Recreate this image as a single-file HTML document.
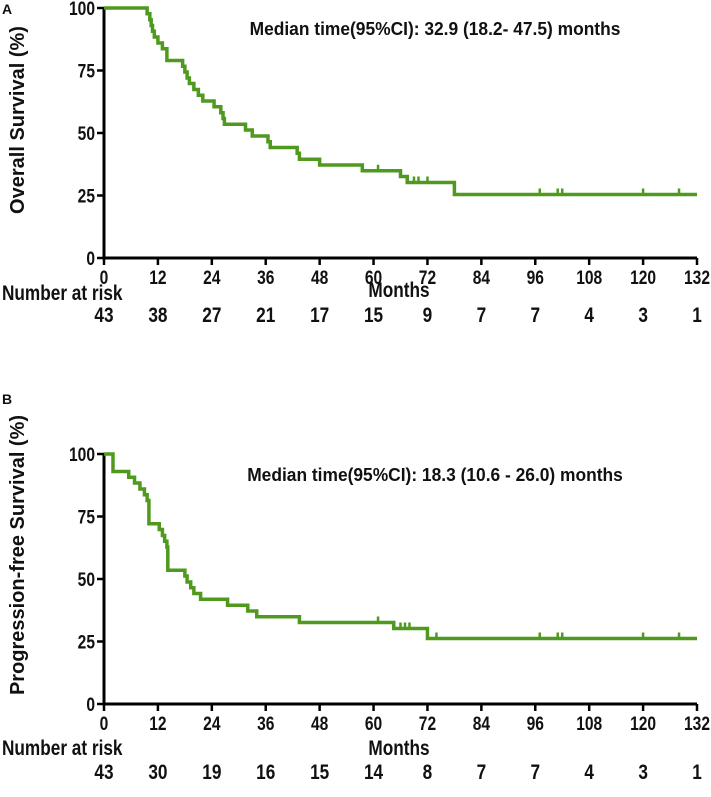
<!DOCTYPE html>
<html><head><meta charset="utf-8">
<style>
html,body{margin:0;padding:0;background:#fff;}
svg{display:block;}
text{font-family:"Liberation Sans",sans-serif;font-weight:bold;fill:#111;}
</style></head>
<body>
<svg id="chart" width="711" height="797" viewBox="0 0 711 797" xmlns="http://www.w3.org/2000/svg"></svg>
<script>
const xTicks = [0,12,24,36,48,60,72,84,96,108,120,132];
const yTicks = [0,25,50,75,100];
const osTimes = [0,9.6,10.2,10.5,10.8,11.2,12,13,14,17.5,18,18.5,19,20,21,22,24.5,26,26.5,26.8,31.5,33,36.5,37,43,43.5,48,57.5,66,67.5,78];
const osSurv  = [100,97.7,95.3,93,90.7,88.4,86,83.7,79,76.7,74.4,72,69.8,67.4,65.1,62.8,60.5,58.1,55.8,53.5,51.2,48.8,46.5,44.2,41.9,39.5,37.2,34.9,32.6,30.2,25.4];
const osCens  = [61,69,70,72,97,101,102,120,128];
const pfsTimes = [0,2,5.5,6.8,8,9,9.6,10,12.3,13,13.5,14,14.2,18,18.5,19.3,20,21.5,22,27.5,32,34,43.5,64.5,72];
const pfsSurv  = [100,93,90.7,88.4,86,83.7,81.4,72.1,69.8,67.4,65.1,62.8,53.5,51.2,48.8,46.5,44.2,41.9,41.9,39.5,37.2,34.9,32.6,30.2,26.2];
const pfsCens  = [61,66,67,68,74,97,101,102,120,128];
const osRisk  = [43,38,27,21,17,15,9,7,7,4,3,1];
const pfsRisk = [43,30,19,16,15,14,8,7,7,4,3,1];

const svg = document.getElementById('chart');
const NS = 'http://www.w3.org/2000/svg';
function el(tag, attrs, parent){const e=document.createElementNS(NS,tag);for(const k in attrs)e.setAttribute(k,attrs[k]);(parent||svg).appendChild(e);return e;}
function txt(s, attrs, parent){const e=el('text',attrs,parent);e.textContent=s;return e;}
function ntxt(s, x, y, size, anchor, parent){
  return txt(s,{x:0,y:0,'font-size':size,'text-anchor':anchor,transform:`translate(${x} ${y}) scale(0.82 1)`},parent);
}

function panel(p){
  const g = el('g',{});
  
  
  const x0=104,x1=697;
  const xs = v => x0 + (v/132)*(x1-x0);
  const ys = v => p.yb - (v/100)*(p.yb-p.yt);
  const lbl = txt(p.letter,{x:2,y:p.letterY,'font-size':14});
  
  
  const ax = el('path',{d:`M${x0} ${p.yt} V${p.yb} H${x1}`,stroke:'#000','stroke-width':3,fill:'none'},g);
  
  
  yTicks.forEach(t=>{
    el('line',{x1:x0-7,x2:x0,y1:ys(t),y2:ys(t),stroke:'#000','stroke-width':2.5},g);
    const tl = ntxt(String(t),x0-9,ys(t)+7,19,'end',g);
    
    
  });
  xTicks.forEach(t=>{
    el('line',{x1:xs(t),x2:xs(t),y1:p.yb,y2:p.yb+7,stroke:'#000','stroke-width':2.5},g);
    const tl = ntxt(String(t),xs(t),p.yb+26,19,'middle',g);
    
    
  });
  const yt = txt(p.ytitle,{x:0,y:0,'font-size':p.ytSize,'text-anchor':'middle',transform:`translate(24 ${p.ytc}) rotate(-90)`},g);
  
  
  const xt = ntxt('Months',399,p.monthsY,21,'middle',g);
  
  
  const md = txt(p.median,{x:435,y:p.yt+27,'font-size':18.5,'text-anchor':'middle',transform:`translate(${435*0.06} 0) scale(0.94 1)`},g);
  
  
  let d = `M${xs(p.times[0])} ${ys(p.surv[0])}`;
  for(let i=1;i<p.times.length;i++){ d += ` H${xs(p.times[i])} V${ys(p.surv[i])}`; }
  d += ` H${xs(132)}`;
  const c = el('path',{d,stroke:'#4f9a1e','stroke-width':3.5,fill:'none'},g);
  
  
  p.cens.forEach(t=>{
    let s=p.surv[0];
    for(let i=0;i<p.times.length;i++){ if(p.times[i]<=t) s=p.surv[i]; }
    const m = el('line',{x1:xs(t),x2:xs(t),y1:ys(s)-6,y2:ys(s),stroke:'#4f9a1e','stroke-width':2.5},g);
    
    
  });
  const nr = ntxt('Number at risk',2,p.riskTitleY,21,'start',g);
  
  
  p.risk.forEach((r,i)=>{
    const rt = ntxt(String(r),xs(xTicks[i]),p.riskY,21,'middle',g);
    
    
  });
}
panel({name:'panel-a-overall-survival',letter:'A',letterY:14,yt:8,yb:258,times:osTimes,surv:osSurv,cens:osCens,risk:osRisk,
  ytitle:'Overall Survival (%)',ytSize:20,ytc:120,median:'Median time(95%CI): 32.9 (18.2- 47.5) months',monthsY:297,riskTitleY:300,riskY:322});
panel({name:'panel-b-progression-free-survival',letter:'B',letterY:404,yt:454,yb:704,times:pfsTimes,surv:pfsSurv,cens:pfsCens,risk:pfsRisk,
  ytitle:'Progression-free Survival (%)',ytSize:20,ytc:555,median:'Median time(95%CI): 18.3 (10.6 - 26.0) months',monthsY:755,riskTitleY:755,riskY:779});
</script>
</body></html>
